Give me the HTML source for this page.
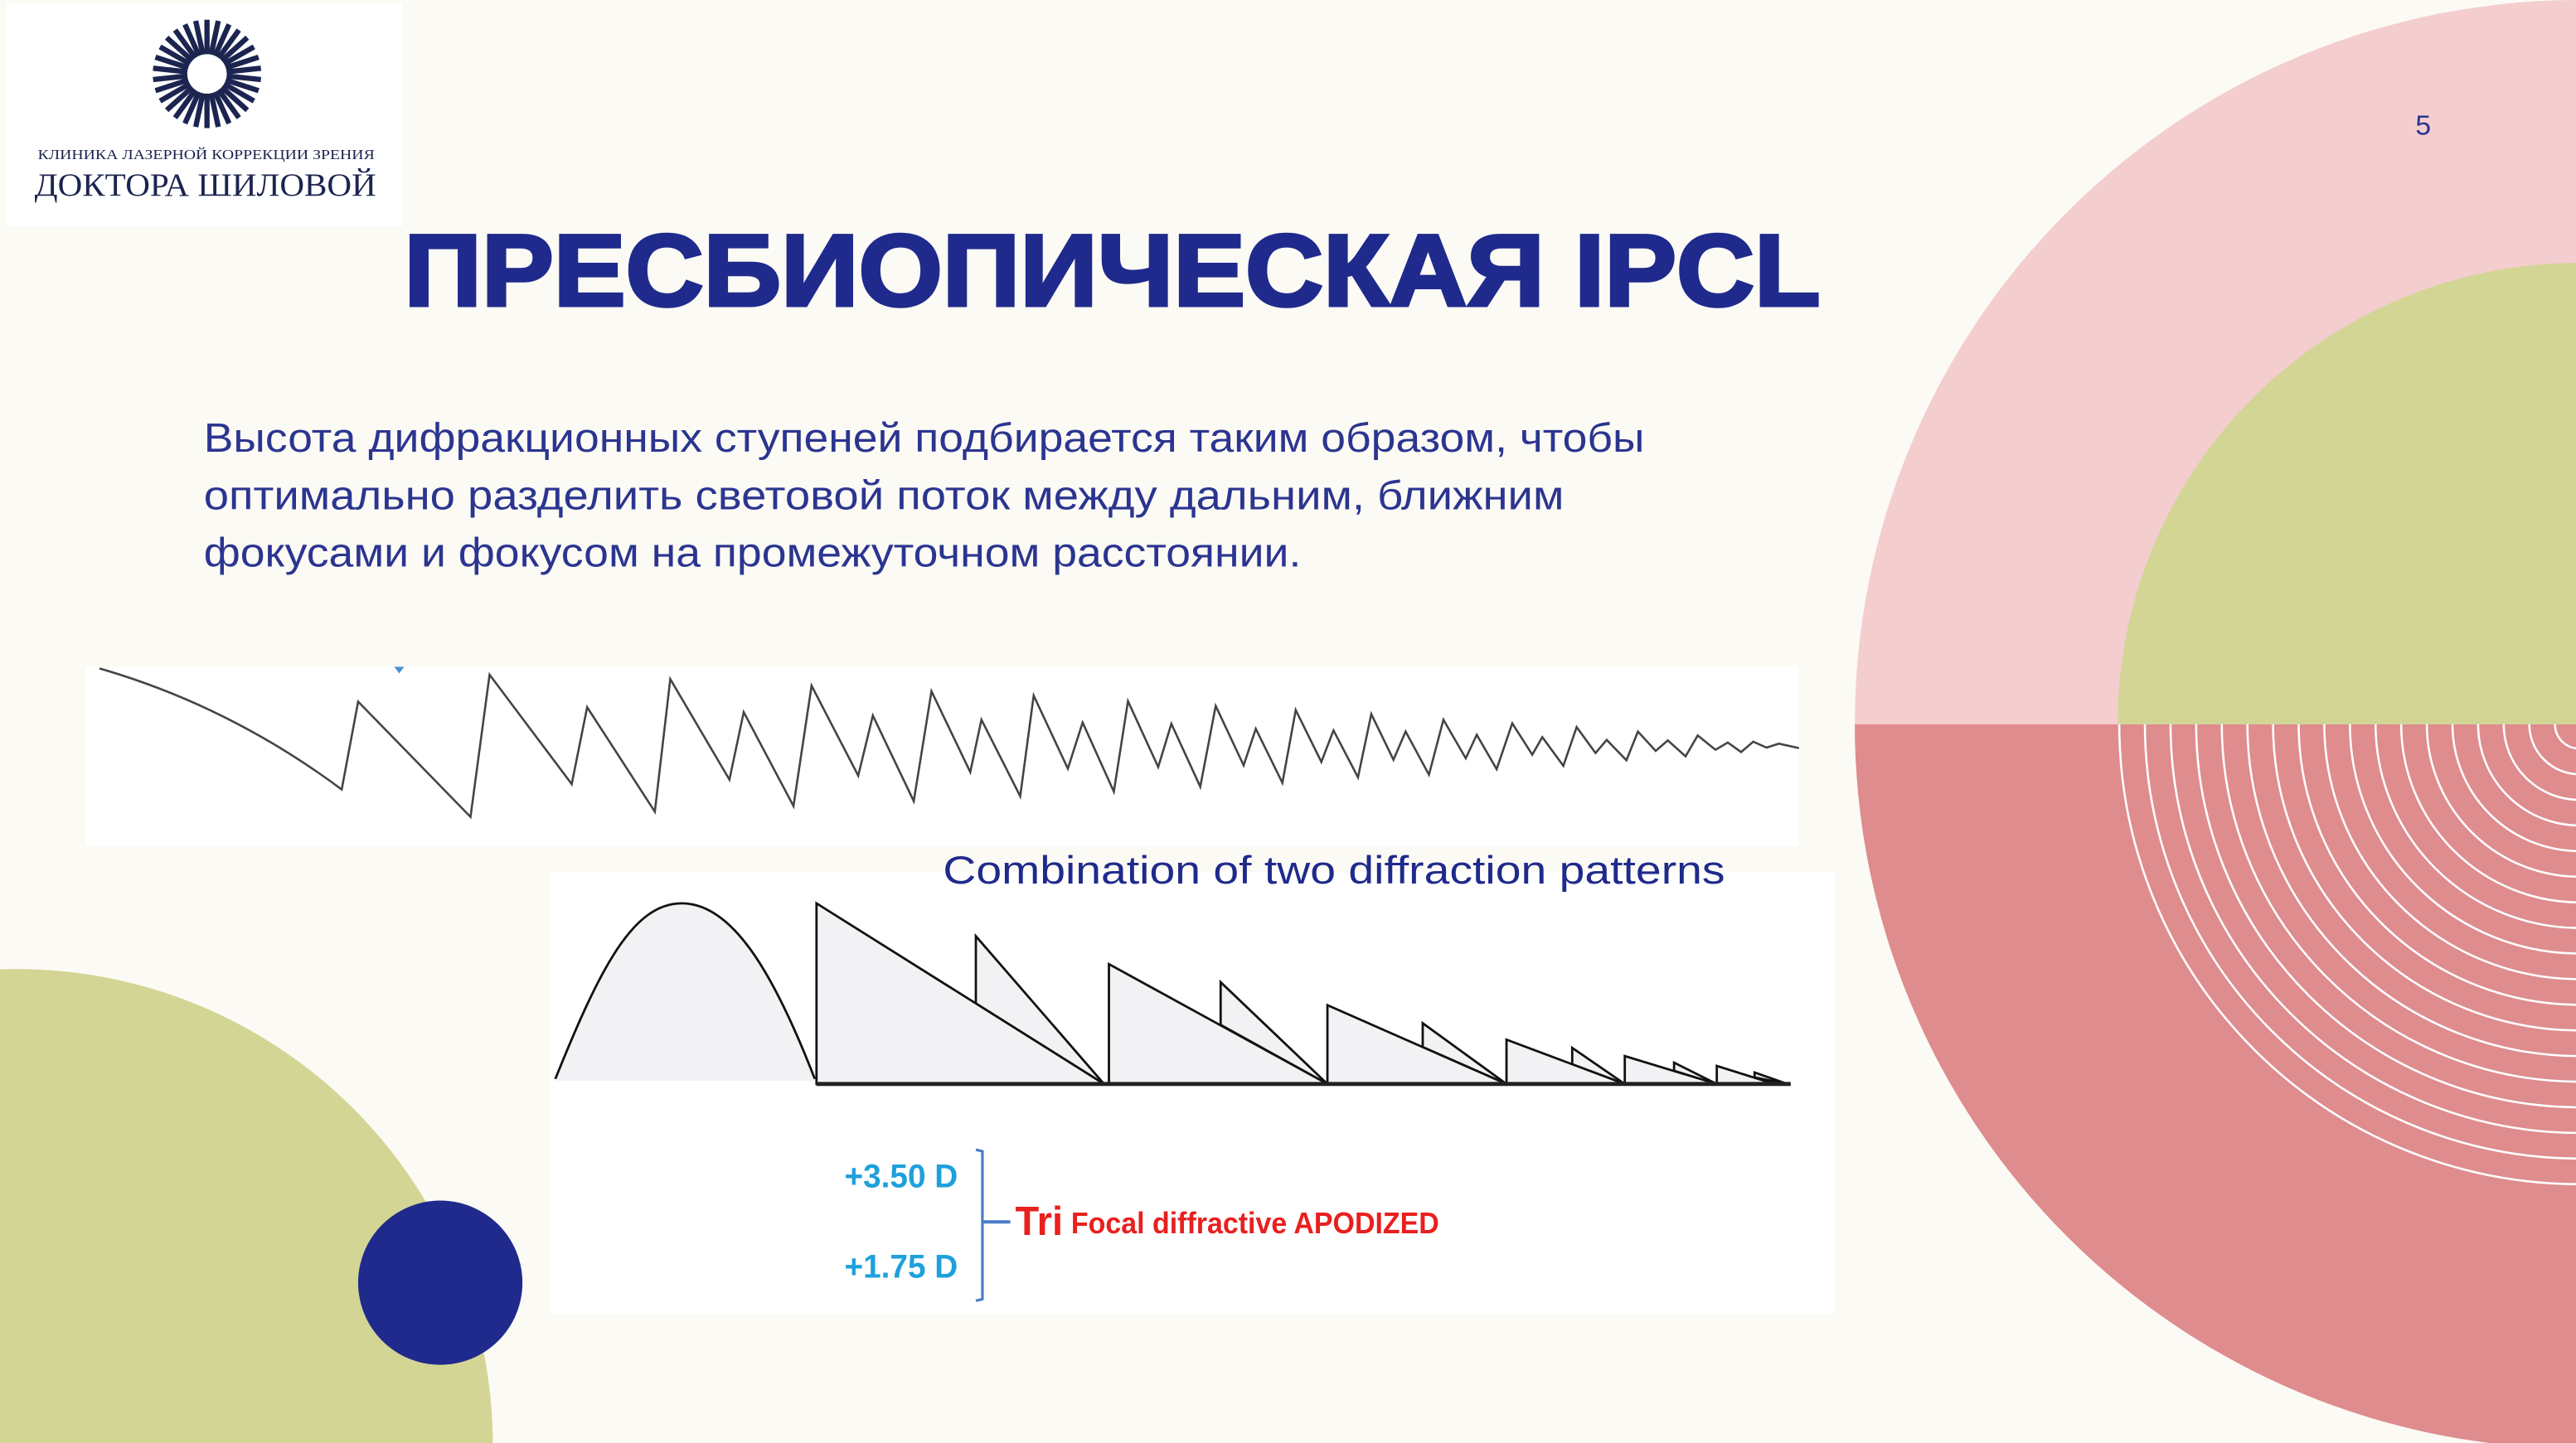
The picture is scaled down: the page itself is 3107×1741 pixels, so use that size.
<!DOCTYPE html>
<html><head><meta charset="utf-8"><style>
html,body{margin:0;padding:0;background:#fcfaf5;width:3107px;height:1741px;overflow:hidden;}
svg{display:block}
</style></head><body>
<svg width="3107" height="1741" viewBox="0 0 1568 878.6" preserveAspectRatio="none" xmlns="http://www.w3.org/2000/svg">
<rect width="1568" height="878.6" fill="#fcfaf5"/>
<defs>
<clipPath id="top"><rect x="0" y="0" width="1568" height="441"/></clipPath>
<clipPath id="bot"><rect x="0" y="441" width="1568" height="437.6"/></clipPath>
<clipPath id="page"><rect x="0" y="0" width="1568" height="878.6"/></clipPath>
<rect id="ray" x="-1.6" y="-33" width="3.2" height="21" fill="#1c2550"/>
</defs>
<g clip-path="url(#page)">
<circle cx="1570" cy="441" r="441" fill="#f4cdcf" clip-path="url(#top)"/>
<circle cx="1570" cy="441" r="441" fill="#de8c8e" clip-path="url(#bot)"/>
<circle cx="1570" cy="441" r="281" fill="#d3d595" clip-path="url(#top)"/>
<g fill="none" stroke="#fff" stroke-width="1.3" clip-path="url(#bot)">
<circle cx="1570" cy="441" r="280"/><circle cx="1570" cy="441" r="264.4"/><circle cx="1570" cy="441" r="248.8"/><circle cx="1570" cy="441" r="233.2"/><circle cx="1570" cy="441" r="217.6"/><circle cx="1570" cy="441" r="202"/><circle cx="1570" cy="441" r="186.4"/><circle cx="1570" cy="441" r="170.8"/><circle cx="1570" cy="441" r="155.2"/><circle cx="1570" cy="441" r="139.6"/><circle cx="1570" cy="441" r="124"/><circle cx="1570" cy="441" r="108.4"/><circle cx="1570" cy="441" r="92.8"/><circle cx="1570" cy="441" r="77.2"/><circle cx="1570" cy="441" r="61.6"/><circle cx="1570" cy="441" r="46"/><circle cx="1570" cy="441" r="30.4"/><circle cx="1570" cy="441" r="14.8"/>
</g>
<text x="1475" y="82" font-family="Liberation Sans, sans-serif" font-size="17" fill="#2a3590" text-anchor="middle">5</text>
<circle cx="10" cy="880" r="290" fill="#d3d595"/>
<circle cx="268" cy="781" r="50" fill="#1f2a8c"/>
</g>
<rect x="4" y="2" width="241" height="136" fill="#fff"/>
<g transform="translate(126,45)">
<use href="#ray" transform="rotate(0)"/><use href="#ray" transform="rotate(12)"/><use href="#ray" transform="rotate(24)"/><use href="#ray" transform="rotate(36)"/><use href="#ray" transform="rotate(48)"/><use href="#ray" transform="rotate(60)"/><use href="#ray" transform="rotate(72)"/><use href="#ray" transform="rotate(84)"/><use href="#ray" transform="rotate(96)"/><use href="#ray" transform="rotate(108)"/><use href="#ray" transform="rotate(120)"/><use href="#ray" transform="rotate(132)"/><use href="#ray" transform="rotate(144)"/><use href="#ray" transform="rotate(156)"/><use href="#ray" transform="rotate(168)"/><use href="#ray" transform="rotate(180)"/><use href="#ray" transform="rotate(192)"/><use href="#ray" transform="rotate(204)"/><use href="#ray" transform="rotate(216)"/><use href="#ray" transform="rotate(228)"/><use href="#ray" transform="rotate(240)"/><use href="#ray" transform="rotate(252)"/><use href="#ray" transform="rotate(264)"/><use href="#ray" transform="rotate(276)"/><use href="#ray" transform="rotate(288)"/><use href="#ray" transform="rotate(300)"/><use href="#ray" transform="rotate(312)"/><use href="#ray" transform="rotate(324)"/><use href="#ray" transform="rotate(336)"/><use href="#ray" transform="rotate(348)"/>
</g>
<text x="23" y="97" font-family="Liberation Serif, serif" font-size="8.5" fill="#1c2550" textLength="205" lengthAdjust="spacingAndGlyphs">КЛИНИКА ЛАЗЕРНОЙ КОРРЕКЦИИ ЗРЕНИЯ</text>
<text x="21" y="119" font-family="Liberation Serif, serif" font-size="20" fill="#1c2550" textLength="208" lengthAdjust="spacingAndGlyphs">ДОКТОРА ШИЛОВОЙ</text>
<text x="246" y="186" font-family="Liberation Sans, sans-serif" font-weight="bold" font-size="62" fill="#1f2a8c" stroke="#1f2a8c" stroke-width="2" textLength="862" lengthAdjust="spacingAndGlyphs">ПРЕСБИОПИЧЕСКАЯ IPCL</text>
<g font-family="Liberation Sans, sans-serif" font-size="25" fill="#2b3590">
<text x="124" y="275" textLength="877" lengthAdjust="spacingAndGlyphs">Высота дифракционных ступеней подбирается таким образом, чтобы</text>
<text x="124" y="310" textLength="828" lengthAdjust="spacingAndGlyphs">оптимально разделить световой поток между дальним, ближним</text>
<text x="124" y="345" textLength="668" lengthAdjust="spacingAndGlyphs">фокусами и фокусом на промежуточном расстоянии.</text>
</g>
<rect x="52" y="406" width="1043" height="109" fill="#fff"/>
<path d="M60.6,407 Q140,430 208,480.7 L218,427.2 286.4,497.4 298,410.8 348,477.4 357.4,430.6 398.6,494.2 408,413.5 444,474.7 452.7,433.6 483,490.8 494,417.5 522.4,472.3 531.3,435.7 556.2,487.8 567,420.9 590.6,470.1 597.4,438.2 621,484.8 629.2,423.5 650,468 659,439.9 678,482 686.6,426.9 705,467 713,440.7 730.6,479 740,429.8 757,466 764.4,443.7 780.6,476.7 788.7,432.3 804.3,463.9 811.7,444.7 826.6,473.3 834.7,434.8 848.2,462.6 855.6,445.4 869.8,471.7 878.6,438.2 892.2,461.7 898.9,447.4 911,468.3 920.5,440.4 932.7,459.5 938.8,448.8 951.6,466.3 959.7,442.7 971.2,458.5 978,450.5 990,462.9 997,445.4 1007.8,457.2 1015.2,450.8 1026,460.5 1033.4,447.8 1044.2,456.5 1051.7,452.1 1059.8,457.9 1067.2,451.6 1075.3,455.2 1082.8,452.8 1095,455.5" fill="none" stroke="#444" stroke-width="1.3"/>
<path d="M240,406 L246,406 243,410 Z" fill="#4a8fd8"/>
<rect x="335" y="531" width="782" height="269" fill="#fff"/>
<text x="574" y="538" font-family="Liberation Sans, sans-serif" font-size="24" fill="#1f2a8c" textLength="476" lengthAdjust="spacingAndGlyphs">Combination of two diffraction patterns</text>
<g fill="#f2f1f4" stroke="#111" stroke-width="1.4">
<path d="M338,657 C365,590 385,550 415,550 C445,550 470,590 496,657"/>
<path d="M594,611 L594,570 L672,660 Z"/>
<path d="M743,624 L743,598 L808,660 Z"/>
<path d="M866,637.5 L866,623 L917,660 Z"/>
<path d="M957,648 L957,638 L989,660 Z"/>
<path d="M1019,652 L1019,647 L1045,660 Z"/>
<path d="M1068,656 L1068,653 L1088,660 Z"/>
<path d="M497,660 L497,550 L672,660 Z"/>
<path d="M675,660 L675,587 L808,660 Z"/>
<path d="M808,660 L808,612 L917,660 Z"/>
<path d="M917,660 L917,633 L989,660 Z"/>
<path d="M989,660 L989,643 L1045,660 Z"/>
<path d="M1045,660 L1045,649 L1080,660 Z"/>
</g>
<rect x="338" y="657" width="158" height="1" fill="#f2f1f4"/>
<line x1="497" y1="660" x2="1090" y2="660" stroke="#222" stroke-width="2.5"/>
<g font-family="Liberation Sans Narrow, Liberation Sans, sans-serif" font-weight="bold">
<text x="514" y="723" font-size="20" fill="#1ea0dc" textLength="69" lengthAdjust="spacingAndGlyphs">+3.50 D</text>
<text x="514" y="778" font-size="20" fill="#1ea0dc" textLength="69" lengthAdjust="spacingAndGlyphs">+1.75 D</text>
<text x="618" y="752" font-size="25" fill="#e8201e" textLength="29" lengthAdjust="spacingAndGlyphs">Tri</text>
<text x="652" y="751" font-size="18" fill="#e8201e" textLength="224" lengthAdjust="spacingAndGlyphs">Focal diffractive  APODIZED</text>
</g>
<path d="M594,700 L598,701 L598,791 L594,792" fill="none" stroke="#4a7cc8" stroke-width="1.6"/>
<line x1="598" y1="744" x2="615" y2="744" stroke="#4a7cc8" stroke-width="2"/>
</svg>
</body></html>
